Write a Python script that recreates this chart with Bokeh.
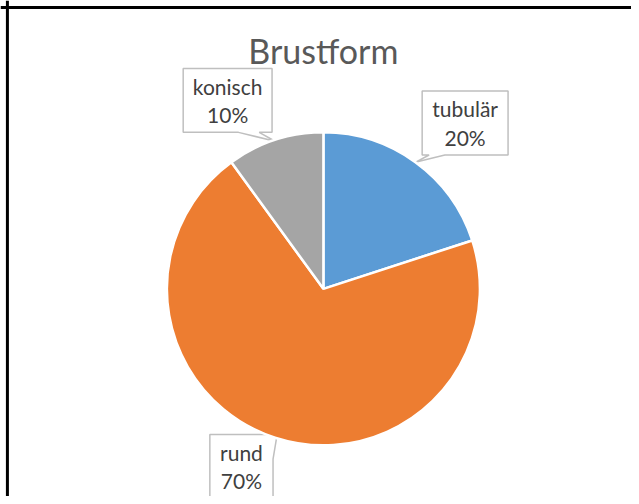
import math
from bokeh.plotting import figure
from bokeh.models import Range1d, Span, ColumnDataSource
from bokeh.core.properties import value
from bokeh.embed import file_html
from bokeh.resources import INLINE

# ---- data ----
categories = ["tubulär", "rund", "konisch"]
shares = [20, 70, 10]
colors = ["#5B9BD5", "#ED7D31", "#A5A5A5"]
title_text = "Brustform"

# ---- layout (reference pixel coordinates; y is negated) ----
W, H = 631, 496
RW, RH = 639, 504
cx, cy, R = 327, 293, 158.5
FONT = "Lato"

p = figure(width=W, height=H, output_backend="svg", toolbar_location=None,
           x_range=Range1d(0, RW), y_range=Range1d(-RH, 0),
           min_border=0, outline_line_color=None)
p.axis.visible = False
p.grid.visible = False
p.background_fill_color = "white"
p.border_fill_color = "white"

# callout boxes and their pointers (drawn under the pie)
boxes = {
    "tubulär": dict(l=427, t=92, r=514, b=157,
                    poly=[(427, 92), (514, 92), (514, 157), (450, 157), (421, 164), (434, 157), (427, 157)]),
    "rund": dict(l=212, t=441, r=276, b=512,
                 poly=[(212, 441), (276, 441), (280, 442), (276, 466), (276, 512), (212, 512)]),
    "konisch": dict(l=185, t=69, r=275, b=134,
                    poly=[(185, 69), (275, 69), (275, 134), (262, 134), (278, 143), (241, 134), (185, 134)]),
}
xs, ys = [], []
for c in categories:
    xs.append([pt[0] for pt in boxes[c]["poly"]])
    ys.append([-pt[1] for pt in boxes[c]["poly"]])
p.patches(xs=xs, ys=ys, fill_color="white", line_color="#BFBFBF", line_width=1.5)

# pie wedges, clockwise from 12 o'clock
total = sum(shares)
starts, ends = [], []
a = 90.0
for s in shares:
    sweep = 360.0 * s / total
    starts.append(math.radians(a))
    ends.append(math.radians(a - sweep))
    a -= sweep
src = ColumnDataSource(dict(start=starts, end=ends, color=colors, cat=categories))
p.wedge(x=cx, y=-cy, radius=R, start_angle="start", end_angle="end",
        direction="clock", fill_color="color", line_color="white",
        line_width=2.5, source=src)

tx, ty1, ty2, t1, t2 = [], [], [], [], []
for c, s in zip(categories, shares):
    b = boxes[c]
    tx.append((b["l"] + b["r"]) / 2)
    ty1.append(-(b["t"] + 18))
    ty2.append(-(b["t"] + 47))
    t1.append(c)
    t2.append(f"{round(100 * s / total)}%")
p.text(x=tx, y=ty1, text=t1, text_font=value(FONT), text_font_size="21px",
       text_color="#404040", text_align="center", text_baseline="alphabetic")
p.text(x=tx, y=ty2, text=t2, text_font=value(FONT), text_font_size="21px",
       text_color="#404040", text_align="center", text_baseline="alphabetic")

# title
p.text(x=[cx], y=[-51], text=[title_text], text_font=value(FONT),
       text_font_size="34px", text_color="#595959", text_align="center",
       text_baseline="alphabetic")

# chart frame (left and top edges visible in the crop)
p.add_layout(Span(location=7, dimension="height", line_color="black", line_width=3))
p.add_layout(Span(location=-7, dimension="width", line_color="black", line_width=3))

open("out.html", "w").write(file_html(p, INLINE))
